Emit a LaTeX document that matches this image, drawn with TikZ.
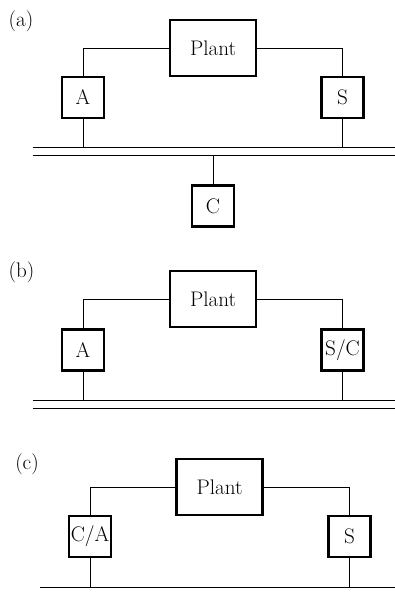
\documentclass[tikz,border=0pt]{standalone}
\usepackage{tikz}

\begin{document}
\begin{tikzpicture}
[x=0.025cm,y=-0.025cm,
  boxDecorate/.style={shape=rectangle,draw,line width=1.8pt,inner sep=0pt,font=\fontsize{15}{18}\selectfont},%
  plantDecorate/.style={boxDecorate,minimum width=2.14cm,minimum height=1.39cm},%
  unitDecorate/.style={boxDecorate,minimum width=1.04cm,minimum height=1.02cm},%
  lineDecorate/.style={-,line width=0.7pt},%
  elbowDecorate/.style={lineDecorate,to path={-| (\tikztotarget)}}]
\useasboundingbox (0,0) rectangle (395,594);
%% panel labels
\foreach \labelname/\x/\y/\txt in {labA/21/21/a, labB/21.5/272/b, labC/27/464/c} {
  \node (\labelname) at (\x,\y) [font=\fontsize{15}{18}\selectfont] {(\txt)};
}
%% plants
\foreach \nodename/\x/\y in {plantA/213/48, plantB/213/299, plantC/219.5/487} {
  \node (\nodename) at (\x,\y) [plantDecorate] {Plant};
}
%% actuators, sensors, controllers
\foreach \nodename/\x/\y/\txt in {actA/83/97.5/A, senA/342.5/97.5/S, ctlA/213/206/C,
    actB/83/350/A, senB/342.5/350/{S/C}, actC/90/536.5/{C/A}, senC/349.5/536.5/S} {
  \node (\nodename) at (\x,\y) [unitDecorate] {\txt};
}
%% buses
\foreach \busname/\x/\y in {busA/33/147, busAlow/33/155, busB/33/400, busBlow/33/408, busC/40/587} {
  \coordinate (\busname) at (\x,\y);
  \coordinate (\busname end) at (395,\y);
  \draw[lineDecorate] (\busname) -- (\busname end);
}
%% edges or lines
\path
\foreach \startnode/\endnode in {plantA/actA, plantB/actB, plantC/actC} {
  (\startnode.west) edge[elbowDecorate] (\endnode.north)
}
\foreach \startnode/\endnode in {plantA/senA, plantB/senB, plantC/senC} {
  (\startnode.east) edge[elbowDecorate] (\endnode.north)
}
\foreach \unitname/\busname in {actA/busA, senA/busA, actB/busB, senB/busB, actC/busC, senC/busC} {
  (\unitname.south) edge[lineDecorate] (\unitname.south |- \busname)
}
(ctlA.north) edge[lineDecorate] (ctlA.north |- busAlow);
\end{tikzpicture}
\end{document}
